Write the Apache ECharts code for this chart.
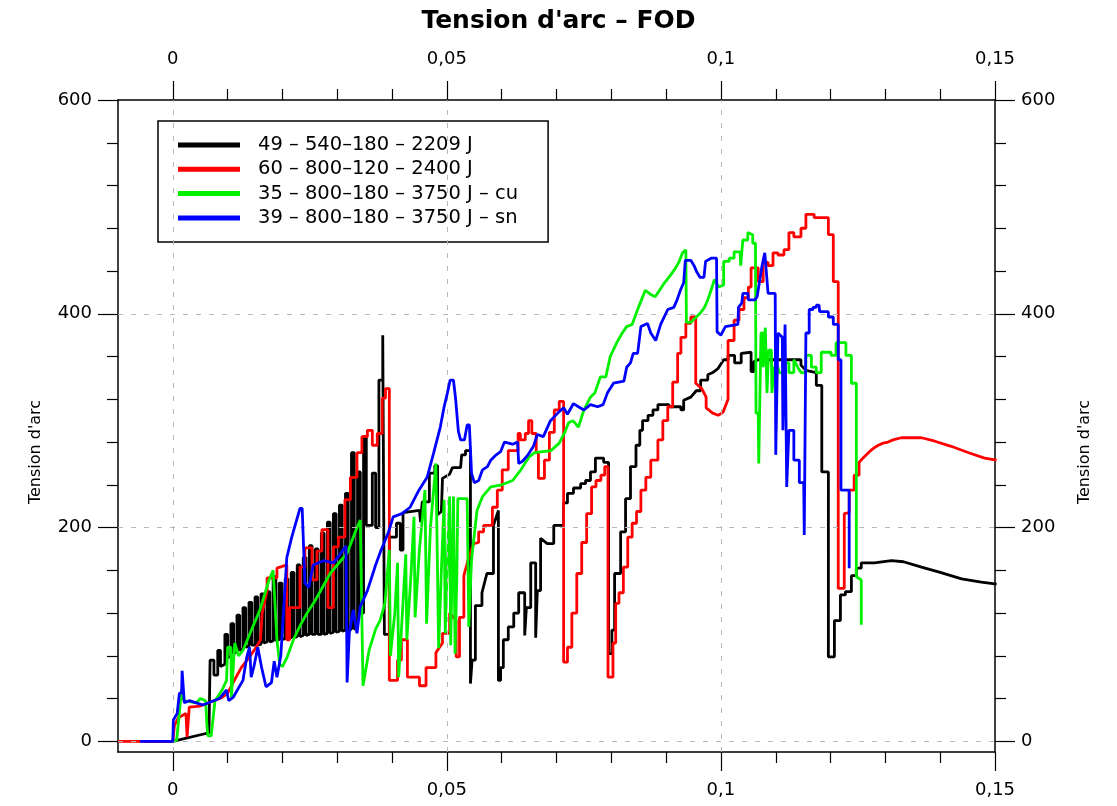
<!DOCTYPE html>
<html>
<head>
<meta charset="utf-8">
<title>Tension d'arc – FOD</title>
<script src="https://cdn.jsdelivr.net/npm/echarts@6/dist/echarts.min.js"></script>
<style>
    html, body { margin: 0; padding: 0; background: #fff; }
    #chart { width: 1117px; height: 806px; }
</style>
</head>
<body>
<div id="chart"></div>
<script>
'use strict';

const seriesNames = [
    '49 – 540–180 – 2209 J',
    '60 – 800–120 – 2400 J',
    '35 – 800–180 – 3750 J – cu',
    '39 – 800–180 – 3750 J – sn'
];
const seriesColors = ['#000000', '#ff0000', '#00f000', '#0000ff'];

const xMajorTicks = [0, 0.05, 0.1, 0.15];
const xMinorTicks = [0.01, 0.02, 0.03, 0.04, 0.06, 0.07, 0.08, 0.09, 0.11, 0.12, 0.13, 0.14];
const yMajorTicks = [0, 200, 400, 600];
const yMinorTicks = [40, 80, 120, 160, 240, 280, 320, 360, 440, 480, 520, 560];
const gridX = [0, 0.05, 0.1];
const gridY = [0, 200, 400];

// 49 - 540-180 - 2209 J
const blackPts = [
    [-0.005, 0], [0, 0], [0.0066, 8], [0.0068, 8], [0.0068, 76], [0.0075, 76], [0.0075, 62], [0.0082, 62],
    [0.0082, 85], [0.0087, 85], [0.0087, 70], [0.0095, 72], [0.0095, 100], [0.0100, 100], [0.0100, 78],
    [0.0106, 80], [0.0106, 110], [0.0111, 110], [0.0111, 82], [0.0117, 84], [0.0117, 118], [0.0122, 118],
    [0.0122, 85], [0.0128, 86], [0.0128, 125], [0.0133, 125], [0.0133, 88], [0.0139, 89], [0.0139, 130],
    [0.0144, 130], [0.0144, 90], [0.0150, 90], [0.0150, 135], [0.0155, 135], [0.0155, 90], [0.0161, 91],
    [0.0161, 138], [0.0166, 138], [0.0166, 92], [0.0172, 93], [0.0172, 140], [0.0177, 140], [0.0177, 93],
    [0.0183, 94], [0.0183, 154], [0.0188, 154], [0.0188, 94], [0.0194, 95], [0.0194, 148], [0.0199, 148],
    [0.0199, 95], [0.0205, 96], [0.0205, 152], [0.0210, 152], [0.0210, 96], [0.0216, 97], [0.0216, 158],
    [0.0221, 158], [0.0221, 97], [0.0227, 98], [0.0227, 165], [0.0232, 165], [0.0232, 98], [0.0238, 99],
    [0.0238, 172], [0.0243, 172], [0.0243, 99], [0.0249, 100], [0.0249, 183], [0.0254, 183], [0.0254, 100],
    [0.0260, 100], [0.0260, 180], [0.0265, 180], [0.0265, 100], [0.0271, 100], [0.0271, 195], [0.0276, 195],
    [0.0276, 100], [0.0282, 101], [0.0282, 205], [0.0287, 205], [0.0287, 101], [0.0293, 102], [0.0293, 213],
    [0.0298, 213], [0.0298, 102], [0.0304, 103], [0.0304, 221], [0.0309, 221], [0.0309, 103], [0.0315, 104],
    [0.0315, 232], [0.0320, 232], [0.0320, 104], [0.0326, 105], [0.0326, 270], [0.0331, 270], [0.0331, 105],
    [0.0337, 106], [0.0337, 252], [0.0342, 252], [0.0342, 120], [0.0348, 120], [0.0348, 285], [0.0353, 285],
    [0.0353, 202], [0.0364, 202], [0.0364, 251], [0.0370, 251], [0.0370, 200], [0.0376, 200], [0.0376, 338],
    [0.0383, 338], [0.0383, 380], [0.0386, 380], [0.0386, 100], [0.0395, 100], [0.0395, 191], [0.0408, 191],
    [0.0408, 204], [0.0415, 204], [0.0415, 179], [0.0420, 179], [0.0420, 214], [0.0450, 216], [0.0452, 205],
    [0.0455, 224], [0.0468, 224], [0.0468, 251], [0.0478, 251], [0.0478, 258], [0.0483, 258], [0.0483, 212],
    [0.0490, 215], [0.0492, 246], [0.0505, 250], [0.0510, 256], [0.0525, 256], [0.0527, 268], [0.0534, 268],
    [0.0534, 272], [0.0543, 272], [0.0543, 54], [0.0546, 54], [0.0546, 76], [0.0552, 76], [0.0552, 127],
    [0.0564, 127], [0.0564, 139], [0.0573, 157], [0.0585, 157], [0.0585, 202], [0.0594, 216], [0.0594, 57],
    [0.0598, 57], [0.0598, 69], [0.0603, 69], [0.0603, 95], [0.0612, 95], [0.0612, 107], [0.0622, 107],
    [0.0622, 120], [0.0631, 120], [0.0631, 139], [0.0642, 139], [0.0642, 99], [0.0645, 99], [0.0645, 125],
    [0.0653, 125], [0.0653, 167], [0.0662, 167], [0.0662, 97], [0.0665, 97], [0.0665, 141], [0.0671, 141],
    [0.0671, 190], [0.0683, 185], [0.0695, 185], [0.0695, 202], [0.0713, 202], [0.0713, 223], [0.0720, 223],
    [0.0720, 232], [0.0731, 232], [0.0731, 237], [0.0744, 237], [0.0744, 241], [0.0753, 241], [0.0753, 244],
    [0.0762, 244], [0.0762, 252], [0.0771, 252], [0.0771, 265], [0.0786, 265], [0.0786, 261], [0.0795, 261],
    [0.0795, 82], [0.0801, 82], [0.0801, 104], [0.0806, 104], [0.0806, 157], [0.0817, 157], [0.0817, 196],
    [0.0826, 196], [0.0826, 227], [0.0835, 227], [0.0835, 257], [0.0845, 257], [0.0845, 277], [0.0852, 277],
    [0.0852, 291], [0.0857, 291], [0.0857, 300], [0.0867, 300], [0.0867, 305], [0.0876, 305], [0.0876, 310],
    [0.0885, 310], [0.0885, 315], [0.0905, 315], [0.0905, 313], [0.0927, 313], [0.0927, 310], [0.0932, 310],
    [0.0932, 319], [0.0945, 322], [0.0955, 328], [0.0963, 328], [0.0963, 338], [0.0976, 338], [0.0976, 343],
    [0.0985, 345], [0.0995, 349], [0.1005, 357], [0.1013, 357], [0.1013, 361], [0.1025, 361], [0.1025, 354],
    [0.1037, 354], [0.1037, 363], [0.1055, 364], [0.1055, 346], [0.1060, 346], [0.1060, 355], [0.1068, 357],
    [0.1146, 357], [0.1146, 352], [0.1155, 347], [0.1174, 345], [0.1174, 333], [0.1184, 333], [0.1184, 252],
    [0.1196, 252], [0.1196, 79], [0.1207, 79], [0.1207, 113], [0.1218, 113], [0.1218, 137], [0.1227, 137],
    [0.1227, 140], [0.1238, 140], [0.1238, 155], [0.1247, 155], [0.1247, 162], [0.1256, 162], [0.1256, 167],
    [0.1280, 167], [0.1311, 169], [0.1333, 168], [0.1366, 163], [0.1400, 158], [0.1439, 152], [0.1475, 149],
    [0.1503, 147]
];

// 60 - 800-120 - 2400 J
const redPts = [
    [-0.01, 0], [0, 0], [0.0003, 15], [0.0010, 22], [0.0024, 26], [0.0026, 4], [0.0029, 4], [0.0030, 32],
    [0.0050, 33], [0.0070, 37], [0.0090, 41], [0.0100, 45], [0.0110, 55], [0.0125, 69], [0.0140, 79],
    [0.0152, 88], [0.0160, 95], [0.0163, 120], [0.0172, 141], [0.0172, 153], [0.0190, 153], [0.0190, 162],
    [0.0208, 165], [0.0208, 95], [0.0213, 95], [0.0213, 125], [0.0232, 125], [0.0232, 163], [0.0241, 163],
    [0.0241, 181], [0.0254, 181], [0.0254, 151], [0.0263, 151], [0.0263, 178], [0.0272, 178], [0.0272, 198],
    [0.0283, 198], [0.0283, 125], [0.0293, 125], [0.0293, 182], [0.0302, 182], [0.0302, 191], [0.0314, 191],
    [0.0314, 226], [0.0324, 226], [0.0324, 247], [0.0336, 247], [0.0336, 270], [0.0345, 270], [0.0345, 285],
    [0.0355, 285], [0.0355, 291], [0.0364, 291], [0.0364, 277], [0.0373, 277], [0.0373, 288], [0.0382, 288],
    [0.0382, 321], [0.0388, 321], [0.0388, 330], [0.0395, 330], [0.0395, 57], [0.0410, 57], [0.0410, 76],
    [0.0417, 76], [0.0417, 95], [0.0428, 95], [0.0428, 60], [0.0450, 60], [0.0450, 52], [0.0462, 52],
    [0.0462, 69], [0.0480, 69], [0.0480, 83], [0.0492, 92], [0.0492, 101], [0.0505, 101], [0.0505, 120],
    [0.0517, 113], [0.0517, 79], [0.0523, 79], [0.0523, 116], [0.0531, 116], [0.0531, 155], [0.0540, 172],
    [0.0549, 185], [0.0558, 186], [0.0558, 196], [0.0567, 196], [0.0567, 202], [0.0583, 202], [0.0583, 219],
    [0.0592, 219], [0.0592, 235], [0.0601, 235], [0.0601, 254], [0.0612, 254], [0.0612, 272], [0.0630, 272],
    [0.0630, 288], [0.0634, 288], [0.0634, 282], [0.0643, 282], [0.0643, 288], [0.0649, 288], [0.0649, 300],
    [0.0655, 300], [0.0655, 288], [0.0663, 288], [0.0663, 270], [0.0667, 270], [0.0667, 246], [0.0678, 246],
    [0.0678, 263], [0.0687, 263], [0.0687, 289], [0.0696, 289], [0.0696, 310], [0.0705, 310], [0.0705, 318],
    [0.0713, 318], [0.0713, 74], [0.0720, 74], [0.0720, 88], [0.0728, 88], [0.0728, 120], [0.0737, 120],
    [0.0737, 157], [0.0746, 157], [0.0746, 186], [0.0755, 186], [0.0755, 213], [0.0764, 213], [0.0764, 238],
    [0.0772, 238], [0.0772, 244], [0.0781, 244], [0.0781, 249], [0.0788, 249], [0.0788, 257], [0.0794, 257],
    [0.0794, 60], [0.0803, 60], [0.0803, 92], [0.0808, 92], [0.0808, 129], [0.0814, 129], [0.0814, 139],
    [0.0822, 139], [0.0822, 163], [0.0830, 163], [0.0830, 191], [0.0838, 191], [0.0838, 204], [0.0846, 204],
    [0.0846, 215], [0.0854, 215], [0.0854, 235], [0.0863, 235], [0.0863, 247], [0.0872, 247], [0.0872, 263],
    [0.0885, 263], [0.0885, 282], [0.0894, 282], [0.0894, 300], [0.0903, 300], [0.0903, 313], [0.0912, 313],
    [0.0912, 336], [0.0921, 336], [0.0921, 363], [0.0927, 363], [0.0927, 378], [0.0936, 378], [0.0936, 391],
    [0.0945, 391], [0.0945, 397], [0.0954, 397], [0.0954, 335], [0.0965, 330], [0.0973, 322], [0.0973, 312],
    [0.0985, 307], [0.0995, 305], [0.1004, 308], [0.1013, 320], [0.1013, 375], [0.1024, 375], [0.1024, 394],
    [0.1033, 394], [0.1033, 404], [0.1042, 404], [0.1042, 415], [0.1050, 415], [0.1050, 425], [0.1055, 425],
    [0.1055, 443], [0.1068, 443], [0.1068, 430], [0.1077, 430], [0.1077, 448], [0.1086, 448], [0.1086, 445],
    [0.1095, 445], [0.1095, 457], [0.1104, 457], [0.1104, 455], [0.1115, 455], [0.1115, 460], [0.1124, 460],
    [0.1124, 476], [0.1133, 476], [0.1133, 472], [0.1146, 472], [0.1146, 480], [0.1155, 480], [0.1155, 493],
    [0.1170, 493], [0.1170, 490], [0.1196, 490], [0.1196, 474], [0.1205, 474], [0.1205, 430], [0.1214, 430],
    [0.1214, 143], [0.1225, 143], [0.1225, 213], [0.1234, 214], [0.1234, 235], [0.1243, 235], [0.1243, 249],
    [0.1252, 249], [0.1252, 261], [0.1261, 266], [0.1271, 271], [0.1278, 274], [0.1287, 277], [0.1296, 279],
    [0.1305, 280], [0.1314, 282], [0.1329, 284], [0.1366, 284], [0.1389, 281], [0.1420, 276], [0.1452, 270],
    [0.1481, 265], [0.1503, 263]
];

// 35 - 800-180 - 3750 J - cu
const greenPts = [
    [0, 0], [0.0007, 1], [0.0016, 48], [0.0020, 38], [0.0043, 36], [0.0050, 40], [0.0060, 38], [0.0062, 17],
    [0.0064, 5], [0.0070, 5], [0.0077, 38], [0.0090, 48], [0.0098, 57], [0.0100, 88], [0.0106, 88],
    [0.0107, 41], [0.0113, 92], [0.0120, 80], [0.0128, 85], [0.0140, 100], [0.0159, 123], [0.0175, 150],
    [0.0183, 160], [0.0190, 95], [0.0195, 72], [0.0200, 70], [0.0208, 78], [0.0220, 95], [0.0232, 108],
    [0.0245, 120], [0.0260, 132], [0.0287, 157], [0.0305, 168], [0.0318, 176], [0.0336, 200], [0.0342, 207],
    [0.0345, 207], [0.0347, 52], [0.0358, 85], [0.0370, 105], [0.0378, 113], [0.0387, 129], [0.0395, 179],
    [0.0397, 80], [0.0405, 120], [0.0410, 167], [0.0412, 60], [0.0420, 130], [0.0425, 175], [0.0427, 95],
    [0.0435, 160], [0.0440, 210], [0.0442, 116], [0.0450, 180], [0.0460, 235], [0.0463, 110], [0.0470, 200],
    [0.0480, 260], [0.0483, 260], [0.0485, 87], [0.0490, 160], [0.0495, 226], [0.0497, 101], [0.0502, 185],
    [0.0505, 229], [0.0507, 90], [0.0512, 229], [0.0515, 82], [0.0518, 150], [0.0520, 227], [0.0537, 227],
    [0.0540, 107], [0.0545, 170], [0.0555, 216], [0.0565, 229], [0.0580, 238], [0.0600, 240], [0.0620, 244],
    [0.0635, 254], [0.0650, 266], [0.0660, 270], [0.0690, 272], [0.0705, 279], [0.0715, 289], [0.0722, 298],
    [0.0730, 300], [0.0740, 294], [0.0750, 310], [0.0762, 322], [0.0770, 326], [0.0780, 341], [0.0790, 341],
    [0.0798, 360], [0.0810, 373], [0.0820, 382], [0.0828, 388], [0.0838, 390], [0.0848, 404], [0.0855, 413],
    [0.0862, 422], [0.0872, 418], [0.0880, 416], [0.0888, 422], [0.0897, 429], [0.0905, 434], [0.0915, 441],
    [0.0923, 448], [0.0930, 457], [0.0936, 460], [0.0937, 392], [0.0945, 392], [0.0955, 397], [0.0963, 401],
    [0.0970, 406], [0.0976, 413], [0.0982, 422], [0.0988, 432], [0.0996, 425], [0.1005, 427], [0.1005, 449],
    [0.1015, 449], [0.1015, 452], [0.1024, 452], [0.1024, 458], [0.1035, 458], [0.1036, 445], [0.1040, 469],
    [0.1049, 469], [0.1049, 476], [0.1058, 474], [0.1058, 466], [0.1063, 466], [0.1064, 307], [0.1068, 307],
    [0.1069, 260], [0.1072, 260], [0.1073, 382], [0.1077, 382], [0.1077, 350], [0.1080, 350], [0.1081, 387],
    [0.1082, 387], [0.1084, 326], [0.1086, 326], [0.1087, 366], [0.1092, 366], [0.1093, 326], [0.1096, 326],
    [0.1097, 350], [0.1104, 350], [0.1106, 345], [0.1113, 345], [0.1115, 354], [0.1124, 354], [0.1124, 345],
    [0.1133, 345], [0.1133, 357], [0.1140, 350], [0.1146, 345], [0.1155, 345], [0.1155, 361], [0.1165, 361],
    [0.1165, 350], [0.1174, 350], [0.1174, 345], [0.1183, 345], [0.1183, 364], [0.1201, 364], [0.1201, 361],
    [0.1210, 361], [0.1210, 373], [0.1228, 373], [0.1228, 361], [0.1238, 361], [0.1238, 335], [0.1247, 335],
    [0.1247, 154], [0.1256, 151], [0.1256, 109]
];

// 39 - 800-180 - 3750 J - sn
const bluePts = [
    [-0.006, 0], [0, 0], [0.0001, 20], [0.0008, 26], [0.0012, 45], [0.0016, 45], [0.0017, 66], [0.0019, 66],
    [0.0021, 36], [0.0030, 38], [0.0043, 36], [0.0055, 34], [0.0070, 37], [0.0085, 40], [0.0098, 48],
    [0.0102, 38], [0.0110, 41], [0.0120, 50], [0.0128, 57], [0.0135, 79], [0.0140, 88], [0.0143, 60],
    [0.0148, 70], [0.0155, 88], [0.0162, 69], [0.0170, 51], [0.0180, 55], [0.0185, 75], [0.0190, 60],
    [0.0197, 80], [0.0208, 172], [0.0217, 191], [0.0232, 218], [0.0236, 218], [0.0241, 148], [0.0248, 144],
    [0.0256, 165], [0.0275, 169], [0.0293, 167], [0.0305, 175], [0.0316, 183], [0.0318, 55], [0.0322, 101],
    [0.0329, 123], [0.0336, 101], [0.0342, 126], [0.0355, 141], [0.0370, 165], [0.0380, 179], [0.0393, 195],
    [0.0402, 210], [0.0418, 213], [0.0433, 219], [0.0449, 235], [0.0464, 247], [0.0476, 270], [0.0488, 294],
    [0.0495, 313], [0.0501, 326], [0.0506, 338], [0.0512, 338], [0.0516, 320], [0.0521, 290], [0.0525, 282],
    [0.0532, 282], [0.0537, 296], [0.0541, 296], [0.0545, 251], [0.0550, 242], [0.0558, 244], [0.0565, 254],
    [0.0574, 257], [0.0580, 263], [0.0590, 268], [0.0598, 271], [0.0605, 280], [0.0620, 278], [0.0629, 280],
    [0.0631, 260], [0.0638, 262], [0.0648, 268], [0.0658, 276], [0.0665, 287], [0.0676, 285], [0.0689, 300],
    [0.0704, 308], [0.0713, 312], [0.0720, 306], [0.0731, 316], [0.0740, 313], [0.0750, 310], [0.0762, 315],
    [0.0775, 313], [0.0785, 315], [0.0793, 326], [0.0804, 335], [0.0823, 337], [0.0828, 350], [0.0835, 354],
    [0.0840, 363], [0.0848, 363], [0.0854, 388], [0.0866, 391], [0.0872, 382], [0.0881, 375], [0.0890, 390],
    [0.0903, 404], [0.0914, 406], [0.0920, 413], [0.0926, 422], [0.0932, 429], [0.0935, 450], [0.0945, 450],
    [0.0951, 445], [0.0956, 439], [0.0962, 434], [0.0969, 434], [0.0972, 449], [0.0982, 452], [0.0992, 452],
    [0.0993, 383], [0.1000, 380], [0.1008, 388], [0.1031, 390], [0.1032, 406], [0.1038, 410], [0.1040, 419],
    [0.1049, 419], [0.1050, 413], [0.1062, 413], [0.1066, 416], [0.1075, 445], [0.1080, 457], [0.1083, 457],
    [0.1086, 419], [0.1099, 419], [0.1100, 268], [0.1102, 268], [0.1104, 382], [0.1112, 378], [0.1113, 291],
    [0.1115, 291], [0.1117, 390], [0.1119, 390], [0.1120, 238], [0.1122, 238], [0.1124, 291], [0.1133, 291],
    [0.1133, 263], [0.1143, 263], [0.1143, 242], [0.1151, 242], [0.1152, 193], [0.1154, 193], [0.1155, 382],
    [0.1161, 382], [0.1161, 404], [0.1168, 404], [0.1168, 406], [0.1174, 406], [0.1174, 408], [0.1179, 408],
    [0.1180, 402], [0.1196, 402], [0.1196, 397], [0.1205, 397], [0.1205, 390], [0.1214, 390], [0.1214, 357],
    [0.1219, 357], [0.1219, 235], [0.1234, 235], [0.1234, 162]
];

const allPts = [blackPts, redPts, greenPts, bluePts];

let fontName = 'DejaVu Sans';
let labelStyle = { color: '#000', fontSize: 18, fontFamily: fontName };

function xLabel(v) {
    return String(v).replace('.', ',');
}

// one axis with long ticks + labels, one with the short minor ticks
function makeX(pos, major) {
    return {
        type: 'value',
        position: pos,
        min: -0.01,
        max: 0.15,
        axisLine: { show: major, onZero: false, lineStyle: { color: '#000', width: 1.5 } },
        axisTick: {
            show: true,
            customValues: major ? xMajorTicks : xMinorTicks,
            length: major ? 19 : 11,
            lineStyle: { color: '#000', width: 1.2 }
        },
        axisLabel: {
            show: major,
            customValues: xMajorTicks,
            formatter: xLabel,
            margin: pos === 'top' ? 32 : 29,
            ...labelStyle
        },
        splitLine: { show: false },
        minorTick: { show: false }
    };
}

function makeY(pos, major) {
    return {
        type: 'value',
        position: pos,
        min: -10,
        max: 600,
        name: major ? "Tension d'arc" : '',
        nameLocation: 'middle',
        nameRotate: 90,
        nameGap: pos === 'left' ? 74 : 82,
        nameTextStyle: { color: '#000', fontSize: 16, fontFamily: fontName, padding: [0, 52, 0, 0] },
        axisLine: { show: major, onZero: false, lineStyle: { color: '#000', width: 1.5 } },
        axisTick: {
            show: true,
            customValues: major ? yMajorTicks : yMinorTicks,
            length: major ? 20 : 11,
            lineStyle: { color: '#000', width: 1.2 }
        },
        axisLabel: {
            show: major,
            customValues: yMajorTicks,
            margin: 26,
            ...labelStyle
        },
        splitLine: { show: false },
        minorTick: { show: false }
    };
}

let series = [{
    // dashed grid lines, drawn under the curves
    type: 'line',
    name: 'grid',
    z: 1,
    data: [],
    silent: true,
    markLine: {
        silent: true,
        symbol: ['none', 'none'],
        label: { show: false },
        lineStyle: { color: '#b8b8b8', width: 1, type: [5, 8] },
        data: gridX.map(v => ({ xAxis: v })).concat(gridY.map(v => ({ yAxis: v })))
    }
}];

allPts.forEach(function(pts, i) {
    series.push({
        type: 'line',
        name: seriesNames[i],
        data: pts,
        showSymbol: false,
        symbol: 'none',
        z: 2 + i,
        lineStyle: { color: seriesColors[i], width: 2.8 },
        itemStyle: { color: seriesColors[i] }
    });
});

let myChart = echarts.init(document.getElementById('chart'));
myChart.setOption({
    animation: false,
    backgroundColor: '#fff',
    title: {
        text: "Tension d'arc – FOD",
        left: 'center',
        top: 4,
        textStyle: { color: '#000', fontSize: 25, fontWeight: 'bold', fontFamily: fontName }
    },
    grid: { left: 118, right: 122, top: 100, bottom: 54, containLabel: false, outerBoundsMode: 'none' },
    legend: {
        data: seriesNames,
        orient: 'vertical',
        left: 158,
        top: 121,
        padding: [14, 30, 14, 20],
        itemGap: 4.3,
        itemWidth: 62,
        itemHeight: 5,
        icon: 'rect',
        backgroundColor: '#fff',
        borderColor: '#000',
        borderWidth: 1.5,
        borderRadius: 0,
        textStyle: { color: '#000', fontSize: 19.5, lineHeight: 18, fontFamily: fontName, padding: [0, 0, 0, 13] }
    },
    xAxis: [makeX('bottom', true), makeX('bottom', false), makeX('top', true), makeX('top', false)],
    yAxis: [makeY('left', true), makeY('left', false), makeY('right', true), makeY('right', false)],
    series: series
});
</script>
</body>
</html>
